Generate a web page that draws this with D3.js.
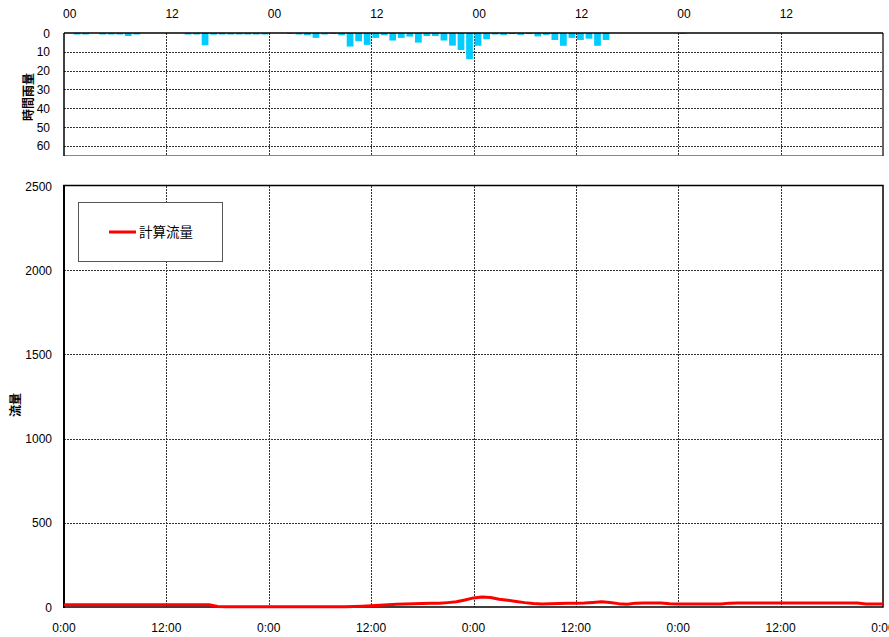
<!DOCTYPE html>
<html><head><meta charset="utf-8">
<script src="https://cdn.jsdelivr.net/npm/d3@7"></script>
<style>
html,body{margin:0;padding:0;background:#fff;}
svg{display:block;}
text{font-family:"Liberation Sans",Arial,sans-serif;font-size:12px;fill:#000;}
.jp{font-family:"Noto Sans CJK JP",sans-serif;}
</style></head>
<body>
<script>
// ---- data ----
const rainHour = d3.range(0, 96);
const rainValues = [
 0,0.8,0.8,0,0.8,0.8,0.8,1.6,0.8,0,0,0,0,0,0.8,0.8,6.5,0.9,0.8,0.8,0.8,0.8,0.8,0.8,
 0,0,0.5,0.8,1.2,2.6,0.8,0.5,1.2,7.2,4.4,6.3,2.6,1.2,4,2.6,1.9,5.1,1.6,1.6,4,6.7,9,13.9,
 6.8,3.3,0.8,1,0.6,1,0.6,1.8,1,3.7,6.8,2.6,3.7,3,6.8,3.7,0,0,0,0,0,0,0,0,
 0.5,0,0,0,0,0,0,0,0,0,0,0,0,0,0,0,0,0,0,0,0,0,0,0
];
const flowHour = d3.range(0, 97);
const flowValues = [
 13,13,13,13,13,13,13,13,13,13,13,13,13,13,13,13,13,13,3,2,2,2,2,2,
 2,2,2,2,2,2,2,2,2,2,3,5,8,10,13,16,18,20,21,22,22,26,31,42,
 54,60,56,46,40,33,26,21,18,19,21,22,23,24,27,31,27,20,17,23,24,24,24,19,
 18,18,18,18,18,18,23,24,24,24,24,24,24,24,24,24,24,24,24,24,24,24,18,18,18
];
const timeTicks = [0,12,24,36,48,60,72,84,96];
const topTickLabels = ["00","12","00","12","00","12","00","12"];
const bottomTickLabels = ["0:00","12:00","0:00","12:00","0:00","12:00","0:00","12:00","0:00"];
const rainTicks = [0,10,20,30,40,50,60];
const flowTicks = [0,500,1000,1500,2000,2500];
const seriesName = "計算流量";

// ---- layout ----
const W = 889, H = 637;
const svg = d3.select("body").append("svg").attr("width", W).attr("height", H);
const x = d3.scaleLinear().domain([0, 96]).range([64, 883]);
const yr = d3.scaleLinear().domain([0, 64.8]).range([33, 155]);
const yf = d3.scaleLinear().domain([0, 2500]).range([607, 186]);

const gridStyle = s => s.attr("stroke", "#333").attr("stroke-width", 1).attr("stroke-dasharray", "2,1");

// ---- top rain chart ----
const topG = svg.append("g");
topG.append("rect").attr("x", 64).attr("y", 33).attr("width", 819).attr("height", 122).attr("fill", "#fff");
topG.selectAll("line.hg").data(rainTicks.filter(d => d > 0)).join("line")
  .attr("x1", 64).attr("x2", 883).attr("y1", d => Math.round(yr(d)) + 0.5).attr("y2", d => Math.round(yr(d)) + 0.5)
  .call(gridStyle);
topG.selectAll("line.vg").data(timeTicks.slice(1, -1)).join("line")
  .attr("x1", d => Math.round(x(d)) + 0.5).attr("x2", d => Math.round(x(d)) + 0.5).attr("y1", 33).attr("y2", 155)
  .call(gridStyle);
const slot = x(1) - x(0);
topG.selectAll("rect.bar").data(rainHour.filter(h => rainValues[h] > 0)).join("rect")
  .attr("x", h => x(h) + 1.2).attr("width", slot - 1.8)
  .attr("y", yr(0)).attr("height", h => yr(rainValues[h]) - yr(0))
  .attr("fill", "#00CCFF");
topG.append("line").attr("x1", 64).attr("x2", 883).attr("y1", 155.5).attr("y2", 155.5).attr("stroke", "#888").attr("stroke-width", 1);
topG.append("line").attr("x1", 64).attr("x2", 64).attr("y1", 33).attr("y2", 156).attr("stroke", "#000").attr("stroke-width", 1.5);
topG.append("line").attr("x1", 883).attr("x2", 883).attr("y1", 33).attr("y2", 156).attr("stroke", "#333").attr("stroke-width", 1.5);
topG.append("line").attr("x1", 64).attr("x2", 883).attr("y1", 33).attr("y2", 33).attr("stroke", "#000").attr("stroke-width", 1.5);
topG.selectAll("text.yt").data(rainTicks).join("text")
  .attr("x", 50).attr("y", d => yr(d) + 4.5).attr("text-anchor", "end").text(d => d);
topG.selectAll("text.xt").data(timeTicks.slice(0, -1)).join("text")
  .attr("x", d => x(d) - 1).attr("y", 18).attr("text-anchor", "start").text((d, i) => topTickLabels[i]);
topG.append("text").attr("class", "jp").attr("transform", "translate(33,97) rotate(-90)")
  .attr("text-anchor", "middle").style("font-weight", "bold").style("font-size", "12px").text("時間雨量");

// ---- bottom flow chart ----
const bot = svg.append("g");
bot.selectAll("line.hg").data(flowTicks.filter(d => d > 0 && d < 2500)).join("line")
  .attr("x1", 64).attr("x2", 883).attr("y1", d => Math.round(yf(d)) + 0.5).attr("y2", d => Math.round(yf(d)) + 0.5)
  .call(gridStyle);
bot.selectAll("line.vg").data(timeTicks.slice(1, -1)).join("line")
  .attr("x1", d => Math.round(x(d)) + 0.5).attr("x2", d => Math.round(x(d)) + 0.5).attr("y1", 186).attr("y2", 607)
  .call(gridStyle);
bot.append("rect").attr("x", 64).attr("y", 185.5).attr("width", 819).attr("height", 421.5)
  .attr("fill", "none").attr("stroke", "#000").attr("stroke-width", 1.5);
bot.append("line").attr("x1", 64).attr("x2", 64).attr("y1", 185).attr("y2", 608).attr("stroke", "#000").attr("stroke-width", 2);
const line = d3.line().x(h => x(h)).y(h => yf(flowValues[h]));
bot.append("path").datum(flowHour).attr("d", line)
  .attr("fill", "none").attr("stroke", "#FF0000").attr("stroke-width", 3).attr("stroke-linejoin", "round");
bot.selectAll("text.yt").data(flowTicks).join("text")
  .attr("x", 52).attr("y", d => yf(d) + 4.5).attr("text-anchor", "end").text(d => d);
bot.selectAll("text.xt").data(timeTicks).join("text")
  .attr("x", d => x(d)).attr("y", 632).attr("text-anchor", "middle").text((d, i) => bottomTickLabels[i]);
bot.append("text").attr("class", "jp").attr("transform", "translate(20,405) rotate(-90)")
  .attr("text-anchor", "middle").style("font-weight", "bold").style("font-size", "12px").text("流量");
const lg = bot.append("g");
lg.append("rect").attr("x", 78.5).attr("y", 202.5).attr("width", 144).attr("height", 59)
  .attr("fill", "#fff").attr("stroke", "#555").attr("stroke-width", 1);
lg.append("line").attr("x1", 109).attr("x2", 136).attr("y1", 232).attr("y2", 232)
  .attr("stroke", "#FF0000").attr("stroke-width", 3);
lg.append("text").attr("class", "jp").attr("x", 139).attr("y", 237).style("font-size", "13.5px").text(seriesName);
</script>
</body></html>
